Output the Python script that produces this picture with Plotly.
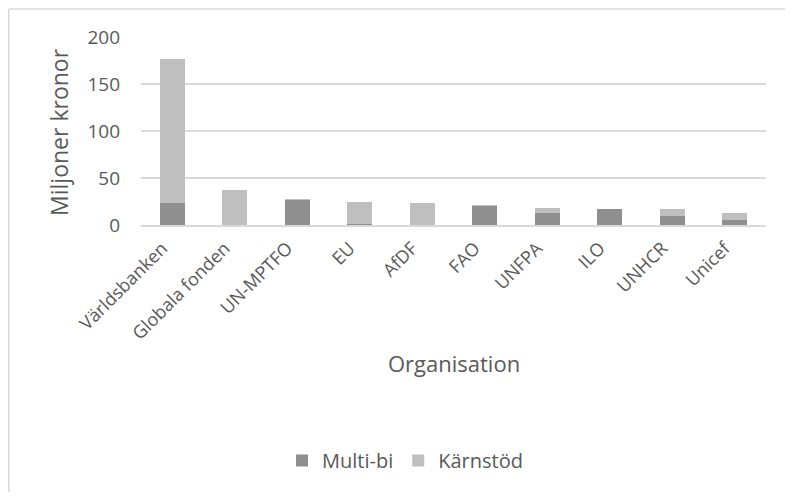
import plotly.graph_objects as go

# === Data (miljoner kronor) ===
organisationer = ["Världsbanken", "Globala fonden", "UN-MPTFO", "EU", "AfDF",
                  "FAO", "UNFPA", "ILO", "UNHCR", "Unicef"]
multi_bi = [23, 0.3, 27, 1, 0.3, 20.5, 13, 17, 9.5, 5.3]
karnstod = [154, 36.5, 0.3, 23, 23, 0.5, 5, 0, 7.5, 7.2]

font = "Open Sans, Liberation Sans, sans-serif"
textcol = "#595959"
gridcol = "#d9d9d9"

fig = go.Figure()
fig.add_trace(go.Bar(x=organisationer, y=multi_bi, name="Multi-bi",
                     marker=dict(color="#8f8f8f", line_width=0)))
fig.add_trace(go.Bar(x=organisationer, y=karnstod, name="Kärnstöd",
                     marker=dict(color="#bfbfbf", line_width=0)))

# === Layout (page body adds an 8px margin) ===
fig.update_layout(
    barmode="stack",
    bargap=0.6,
    width=777, height=484,
    plot_bgcolor="white", paper_bgcolor="white",
    font=dict(family=font, color=textcol, size=18),
    margin=dict(l=133, r=19, t=29, b=265),
    showlegend=True,
    legend=dict(orientation="h", x=0.4224, xanchor="center", y=-1.2526, yanchor="middle",
                font=dict(size=20), traceorder="normal"),
    xaxis=dict(
        tickangle=-45, tickfont=dict(size=18), showgrid=False,
        showline=True, linecolor=gridcol, linewidth=1.5, ticks="",
        ticklabelshift=-10, ticklabelstandoff=4,
    ),
    yaxis=dict(
        range=[0, 200], dtick=50, tickfont=dict(size=19),
        showgrid=True, gridcolor=gridcol, gridwidth=1.5, zeroline=False,
        ticks="", ticklabelstandoff=20,
    ),
    annotations=[
        dict(text="Organisation", xref="paper", yref="paper", x=0.5, y=-0.7316,
             showarrow=False, font=dict(size=22), xanchor="center", yanchor="middle"),
        dict(text="Miljoner kronor", xref="paper", yref="paper", x=-0.1312, y=0.495,
             showarrow=False, font=dict(size=23), textangle=-90,
             xanchor="center", yanchor="middle"),
    ],
    shapes=[
        dict(type="line", xref="paper", yref="paper", x0=-0.2116, x1=1.05,
             y0=1.1487, y1=1.1487, line=dict(color=gridcol, width=1.5)),
        dict(type="line", xref="paper", yref="paper", x0=-0.2116, x1=-0.2116,
             y0=1.1487, y1=-1.5, line=dict(color=gridcol, width=1.5)),
    ],
)

fig.write_html("out.html")
